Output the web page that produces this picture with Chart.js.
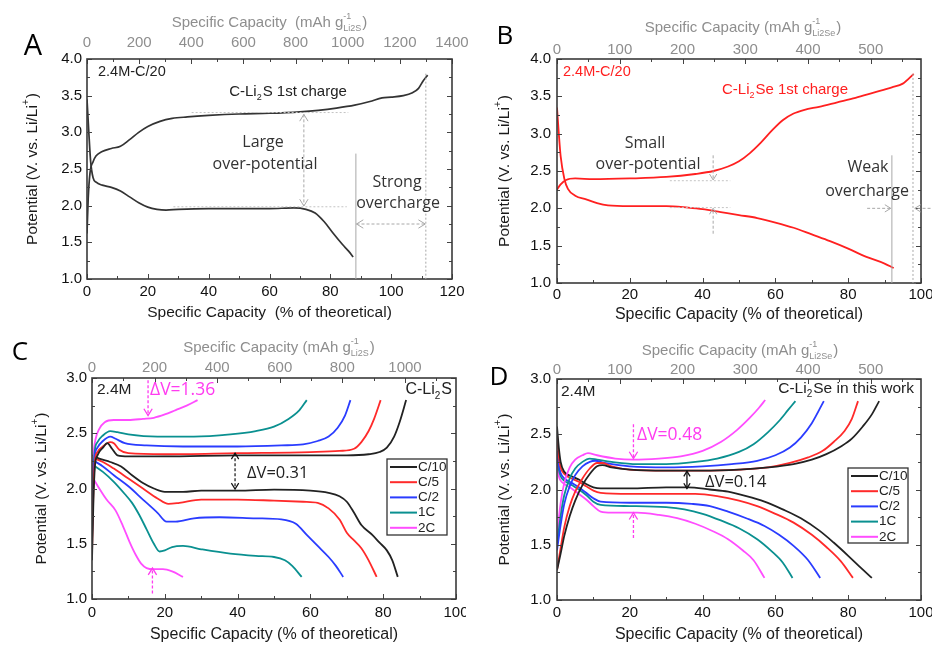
<!DOCTYPE html>
<html>
<head>
<meta charset="utf-8">
<script src="https://cdn.jsdelivr.net/npm/chart.js@4.4.1/dist/chart.umd.min.js"></script>
<style>
  html, body { margin: 0; padding: 0; background: #fff; }
  #wrap { position: relative; width: 932px; height: 646px; overflow: hidden; }
  canvas { position: absolute; }
</style>
</head>
<body>
<div id="wrap">
  <canvas id="pA" width="474" height="323" style="left:0;top:0"></canvas>
  <canvas id="pB" width="466" height="323" style="left:466px;top:0"></canvas>
  <canvas id="pC" width="466" height="323" style="left:0;top:323px"></canvas>
  <canvas id="pD" width="466" height="323" style="left:466px;top:323px"></canvas>
</div>
<script>
// ---- tick labels ----
const pctTicksA = [0, 20, 40, 60, 80, 100, 120];
const pctTicks = [0, 20, 40, 60, 80, 100];
const mAhTicksA = [0, 200, 400, 600, 800, 1000, 1200, 1400];
const mAhTicksB = [0, 100, 200, 300, 400, 500];
const mAhTicksC = [0, 200, 400, 600, 800, 1000];
const mAhTicksD = [0, 100, 200, 300, 400, 500];
const vTicksAB = [1.0, 1.5, 2.0, 2.5, 3.0, 3.5, 4.0];
const vTicksCD = [1.0, 1.5, 2.0, 2.5, 3.0];

// ---- panel A: C-Li2S first charge / discharge (x: % of theoretical, y: V) ----
const aCharge = [[0,1.62],[0.4,2.1],[1,2.45],[2,2.6],[3,2.68],[5,2.74],[8,2.78],[11,2.81],[14,2.9],[17,3.0],[20,3.08],[24,3.15],[28,3.19],[33,3.21],[40,3.23],[50,3.25],[60,3.26],[70,3.28],[76,3.3],[82,3.33],[88,3.37],[93,3.42],[97,3.47],[100,3.48],[104,3.5],[107,3.54],[109,3.6],[110.5,3.7],[112,3.78]];
const aDischarge = [[0,3.45],[0.6,3.0],[1.2,2.6],[2,2.38],[3,2.32],[5,2.28],[8,2.25],[11,2.2],[14,2.12],[17,2.04],[20,1.98],[23,1.95],[26,1.94],[30,1.95],[40,1.96],[50,1.96],[60,1.96],[68,1.97],[72,1.95],[75,1.9],[78,1.78],[81,1.62],[84,1.47],[86,1.38],[87.5,1.3]];

// ---- panel B: C-Li2Se first charge / discharge ----
const bCharge = [[0,2.25],[1,2.32],[2.5,2.38],[5,2.4],[10,2.39],[20,2.4],[30,2.42],[38,2.46],[43,2.5],[47,2.56],[50,2.63],[53,2.74],[56,2.88],[59,3.04],[62,3.18],[65,3.27],[68,3.32],[72,3.36],[77,3.42],[82,3.48],[87,3.55],[92,3.62],[95,3.67],[98,3.8]];
const bDischarge = [[0,3.35],[0.5,3.0],[1,2.7],[2,2.4],[3,2.26],[5,2.17],[8,2.12],[11,2.07],[14,2.04],[20,2.03],[30,2.03],[36,2.01],[40,1.99],[45,1.95],[50,1.91],[55,1.87],[60,1.81],[65,1.74],[70,1.65],[75,1.56],[80,1.46],[85,1.35],[90,1.26],[92.5,1.2]];

// ---- panel C: C-Li2S at different rates ----
const rateLabels = ['C/10', 'C/5', 'C/2', '1C', '2C'];
const cCharge = [
  [[0,1.35],[0.4,1.9],[0.8,2.2],[1.5,2.3],[3,2.37],[4.2,2.41],[5.5,2.36],[7,2.3],[10,2.29],[20,2.29],[40,2.3],[60,2.3],[70,2.3],[76,2.31],[79,2.33],[81,2.37],[83,2.47],[84.5,2.6],[86.3,2.8]],
  [[0,1.4],[0.4,2.0],[0.8,2.25],[1.5,2.33],[3,2.38],[5,2.42],[6,2.41],[7.5,2.35],[10,2.32],[20,2.31],[40,2.32],[60,2.33],[68,2.34],[72,2.36],[74,2.42],[76,2.52],[77.5,2.63],[79.3,2.8]],
  [[0,1.55],[0.4,2.1],[0.8,2.3],[1.5,2.37],[3,2.43],[5,2.47],[6.5,2.45],[9,2.41],[15,2.39],[25,2.38],[40,2.38],[52,2.39],[58,2.4],[62,2.43],[65,2.47],[67.5,2.55],[69.5,2.66],[71,2.8]],
  [[0,1.5],[0.4,2.15],[0.8,2.35],[1.5,2.42],[3,2.48],[5,2.52],[7,2.51],[10,2.49],[18,2.47],[28,2.47],[38,2.49],[45,2.52],[50,2.56],[54,2.63],[57,2.71],[59,2.8]],
  [[0,2.0],[0.4,2.3],[1,2.45],[2,2.54],[3.5,2.6],[6,2.62],[10,2.62],[14,2.63],[17,2.64],[20,2.67],[23,2.71],[26,2.75],[29,2.8]]
];
const cDischarge = [
  [[0,2.3],[2,2.27],[5,2.24],[8,2.2],[11,2.12],[14,2.05],[17,2.0],[20,1.97],[25,1.97],[30,1.98],[40,1.98],[50,1.99],[60,1.98],[65,1.96],[68,1.93],[70,1.88],[72,1.78],[74,1.67],[77,1.58],[79,1.51],[81,1.44],[82.5,1.35],[84,1.2]],
  [[0,2.28],[3,2.24],[6,2.18],[10,2.09],[14,2.0],[18,1.91],[21,1.86],[24,1.87],[30,1.9],[40,1.9],[50,1.89],[58,1.88],[62,1.87],[65,1.82],[68,1.72],[70,1.6],[72,1.53],[74,1.46],[76,1.35],[78.2,1.2]],
  [[0,2.26],[3,2.2],[6,2.12],[10,2.02],[14,1.9],[18,1.78],[20.5,1.7],[23,1.7],[28,1.73],[35,1.74],[45,1.73],[52,1.72],[56,1.68],[59,1.58],[62,1.48],[65,1.38],[67,1.3],[69,1.2]],
  [[0,2.22],[3,2.15],[6,2.06],[9,1.95],[11,1.87],[13,1.76],[15,1.63],[17,1.5],[18.6,1.43],[20,1.44],[22,1.47],[25,1.48],[30,1.45],[38,1.41],[45,1.39],[50,1.38],[53,1.35],[55,1.3],[57.6,1.2]],
  [[0,2.11],[2,2.0],[4,1.9],[6.5,1.8],[8.5,1.66],[10.4,1.51],[12,1.4],[13.5,1.32],[15,1.28],[17,1.27],[19.5,1.27],[22,1.25],[25,1.2]]
];

// ---- panel D: C-Li2Se at different rates ----
const dCharge = [
  [[0,1.27],[1,1.42],[2,1.58],[3.5,1.76],[5,1.9],[7,2.04],[9,2.14],[11,2.21],[12.5,2.22],[15,2.2],[20,2.18],[30,2.17],[40,2.17],[50,2.18],[58,2.2],[65,2.23],[70,2.27],[74,2.32],[78,2.39],[81,2.46],[84,2.57],[86.5,2.68],[88.5,2.8]],
  [[0,1.27],[1,1.47],[2,1.66],[3.5,1.85],[5,1.98],[7,2.1],[9,2.19],[11,2.24],[12.5,2.24],[15,2.21],[20,2.18],[30,2.17],[40,2.17],[50,2.18],[58,2.2],[64,2.24],[69,2.29],[73,2.35],[76,2.43],[79,2.53],[81,2.64],[82.7,2.8]],
  [[0,1.45],[1,1.68],[2,1.87],[3.5,2.03],[5,2.13],[7,2.21],[9,2.25],[10.5,2.26],[13,2.24],[20,2.21],[30,2.2],[40,2.21],[48,2.23],[55,2.26],[60,2.31],[64,2.38],[67,2.47],[70,2.6],[73.3,2.8]],
  [[0,1.5],[1,1.76],[2,1.95],[3.5,2.1],[5,2.19],[7,2.25],[9,2.28],[11,2.27],[15,2.25],[22,2.23],[30,2.23],[38,2.25],[44,2.28],[50,2.34],[54,2.41],[58,2.52],[61,2.62],[63.5,2.72],[65.5,2.8]],
  [[0,1.58],[1,1.88],[2,2.06],[3.5,2.2],[5,2.27],[7,2.31],[8.5,2.33],[11,2.31],[16,2.28],[21,2.27],[28,2.28],[34,2.3],[40,2.35],[45,2.43],[49.5,2.54],[53,2.65],[55.5,2.74],[57.2,2.81]]
];
const dDischarge = [
  [[0,2.57],[0.5,2.38],[1,2.25],[2,2.16],[4,2.12],[6,2.09],[8,2.05],[10,2.02],[12,2.01],[20,2.01],[30,2.02],[36,2.02],[42,2.0],[47,1.98],[52,1.94],[57,1.89],[62,1.82],[67,1.74],[72,1.63],[76,1.52],[80,1.4],[83.5,1.29],[86.5,1.2]],
  [[0,2.5],[0.5,2.3],[1,2.2],[2,2.14],[4,2.1],[6,2.07],[8,2.03],[10,1.99],[12,1.97],[20,1.96],[30,1.96],[38,1.96],[44,1.94],[50,1.9],[55,1.85],[60,1.78],[65,1.7],[70,1.59],[74,1.48],[78,1.35],[81.3,1.2]],
  [[0,2.35],[0.5,2.22],[1,2.15],[2,2.1],[4,2.06],[6,2.02],[8,1.97],[10,1.92],[12,1.89],[20,1.88],[30,1.88],[37,1.87],[42,1.85],[47,1.8],[52,1.74],[57,1.67],[61,1.59],[65,1.49],[69,1.36],[72.3,1.2]],
  [[0,2.3],[0.5,2.18],[1,2.12],[2,2.08],[4,2.04],[6,2.0],[8,1.95],[10,1.89],[12,1.86],[20,1.85],[30,1.84],[35,1.82],[40,1.78],[45,1.72],[50,1.65],[55,1.55],[59,1.44],[62,1.34],[64.7,1.2]],
  [[0,2.22],[0.5,2.12],[1,2.08],[2,2.05],[4,2.01],[6,1.96],[8,1.91],[10,1.85],[12,1.8],[15,1.79],[22,1.79],[28,1.77],[33,1.74],[38,1.69],[43,1.62],[47,1.55],[51,1.45],[54,1.36],[57,1.2]]
];

const rateColors = ['#222222', '#ff2a2a', '#2a3cff', '#0a9090', '#ff4dff'];
const MAG = '#ff3cf0';
const GRAY = '#8e8e8e';
const FONT = 'Liberation Sans';
const FONT2 = 'Open Sans';

Chart.defaults.font.family = FONT;
Chart.defaults.font.size = 15;
Chart.defaults.color = '#111';

// ---------- drawing helpers ----------
function rich(ctx, parts, x, y, o) {
  const size = o.size || 15, fam = o.font || FONT, small = Math.round(size * 0.62);
  const F = s => (o.weight || '') + ' ' + s + 'px "' + fam + '"';
  const widths = parts.map(p => {
    if (typeof p === 'string') { ctx.font = F(size); return ctx.measureText(p).width; }
    ctx.font = F(small);
    return Math.max(p.sub ? ctx.measureText(p.sub).width : 0, p.sup ? ctx.measureText(p.sup).width : 0) + 1;
  });
  const total = widths.reduce((a, b) => a + b, 0);
  let cx = o.align === 'center' ? x - total / 2 : o.align === 'right' ? x - total : x;
  ctx.fillStyle = o.color || '#111';
  ctx.textBaseline = 'middle';
  ctx.textAlign = 'left';
  parts.forEach((p, i) => {
    if (typeof p === 'string') { ctx.font = F(size); ctx.fillText(p, cx, y); }
    else {
      ctx.font = F(small);
      if (p.sup) ctx.fillText(p.sup, cx, y - size * 0.42);
      if (p.sub) ctx.fillText(p.sub, cx, y + size * 0.36);
    }
    cx += widths[i];
  });
}

function seg(ctx, x1, y1, x2, y2, color, dash, w) {
  ctx.save();
  ctx.strokeStyle = color; ctx.lineWidth = w || 1; ctx.setLineDash(dash || []);
  ctx.beginPath(); ctx.moveTo(x1, y1); ctx.lineTo(x2, y2); ctx.stroke();
  ctx.restore();
}

function head(ctx, x, y, ang, s, color, w) {
  ctx.save();
  ctx.strokeStyle = color; ctx.lineWidth = w || 1; ctx.setLineDash([]);
  ctx.beginPath();
  ctx.moveTo(x - s * Math.cos(ang - 0.55), y - s * Math.sin(ang - 0.55));
  ctx.lineTo(x, y);
  ctx.lineTo(x - s * Math.cos(ang + 0.55), y - s * Math.sin(ang + 0.55));
  ctx.stroke();
  ctx.restore();
}

function arrow(ctx, x1, y1, x2, y2, o) {
  seg(ctx, x1, y1, x2, y2, o.color, o.dash, o.w);
  head(ctx, x2, y2, Math.atan2(y2 - y1, x2 - x1), o.head || 7, o.color, o.w);
  if (o.both) head(ctx, x1, y1, Math.atan2(y1 - y2, x1 - x2), o.head || 7, o.color, o.w);
}

function frameAndTicks(chart) {
  const ctx = chart.ctx, a = chart.chartArea;
  const sx = chart.scales.x, sy = chart.scales.y, st = chart.scales.x2;
  ctx.save();
  ctx.strokeStyle = '#444'; ctx.lineWidth = 1;
  const list = s => {
    const v = s.ticks.map(t => t.value), step = v[1] - v[0], out = [];
    v.forEach(t => { out.push([t, 5]); if (t + step / 2 < s.max) out.push([t + step / 2, 3]); });
    return out;
  };
  ctx.beginPath();
  list(sx).forEach(([v, l]) => { const p = Math.round(sx.getPixelForValue(v)) + 0.5; ctx.moveTo(p, a.bottom); ctx.lineTo(p, a.bottom - l); });
  list(st).forEach(([v, l]) => { const p = Math.round(st.getPixelForValue(v)) + 0.5; ctx.moveTo(p, a.top); ctx.lineTo(p, a.top + l); });
  list(sy).forEach(([v, l]) => {
    const p = Math.round(sy.getPixelForValue(v)) + 0.5;
    ctx.moveTo(a.left, p); ctx.lineTo(a.left + l, p);
    ctx.moveTo(a.right, p); ctx.lineTo(a.right - l, p);
  });
  ctx.stroke();
  ctx.lineWidth = 1.6; ctx.strokeStyle = '#3a3a3a';
  ctx.strokeRect(a.left, a.top, a.right - a.left, a.bottom - a.top);
  ctx.restore();
}

function titles(chart, t) {
  const ctx = chart.ctx, a = chart.chartArea, mid = (a.left + a.right) / 2;
  rich(ctx, t.bottom, mid + (t.bdx || 0), t.by, { size: t.bSize || 16, align: 'center', color: '#1a1a1a' });
  rich(ctx, t.top, mid + (t.tdx || 0), t.ty, { size: 15, align: 'center', color: GRAY });
  ctx.save();
  ctx.translate(t.lx, (a.top + a.bottom) / 2);
  ctx.rotate(-Math.PI / 2);
  rich(ctx, ['Potential (V. vs. Li/Li', { sup: '+' }, ')'], 0, 0, { size: 15.5, align: 'center', color: '#1a1a1a' });
  ctx.restore();
  rich(ctx, [t.letter], t.letterX, t.letterY, { size: t.letterSize || 26, font: FONT2, align: 'center', color: '#000' });
}

function legendBox(chart, box) {
  const ctx = chart.ctx;
  ctx.save();
  ctx.fillStyle = '#fff';
  ctx.fillRect(box.x, box.y, box.w, box.h);
  ctx.strokeStyle = '#333'; ctx.lineWidth = 1.3;
  ctx.strokeRect(box.x, box.y, box.w, box.h);
  rateLabels.forEach((lab, i) => {
    const yy = box.y + box.first + i * box.gap;
    seg(ctx, box.x + 3, yy, box.x + box.line, yy, rateColors[i], [], 2);
    rich(ctx, [lab], box.x + box.line + 1, yy, { size: 13.5, color: '#222' });
  });
  ctx.restore();
}

// per-panel decorations (annotations in data coordinates)
const decorations = {
  pA(chart) {
    const ctx = chart.ctx, X = v => chart.scales.x.getPixelForValue(v), Y = v => chart.scales.y.getPixelForValue(v);
    const g = '#a8a8a8';
    seg(ctx, X(34.4), Y(3.27), X(85.9), Y(3.27), '#c4c4c4', [2, 2], 1);
    seg(ctx, X(28.4), Y(1.985), X(85.4), Y(1.985), '#c4c4c4', [2, 2], 1);
    arrow(ctx, X(71.3), Y(3.245), X(71.3), Y(1.995), { color: g, dash: [3, 2], both: true, head: 8 });
    seg(ctx, X(88.4), Y(2.71), X(88.4), Y(1.0), g, [], 1);
    seg(ctx, X(111.4), Y(3.8), X(111.4), Y(1.0), g, [2, 2], 1);
    arrow(ctx, X(88.6), Y(1.75), X(111.2), Y(1.75), { color: g, dash: [3, 2], both: true, head: 8 });
    rich(ctx, ['2.4M-C/20'], 98, 72, { size: 14.5, color: '#222' });
    rich(ctx, ['C-Li', { sub: '2' }, 'S 1st charge'], 288, 92, { size: 15, align: 'center', color: '#222' });
    rich(ctx, ['Large'], 263, 142, { size: 16, font: FONT2, align: 'center', color: '#333' });
    rich(ctx, ['over-potential'], 265, 164, { size: 16, font: FONT2, align: 'center', color: '#333' });
    rich(ctx, ['Strong'], 397, 182, { size: 16, font: FONT2, align: 'center', color: '#333' });
    rich(ctx, ['overcharge'], 398, 203, { size: 16, font: FONT2, align: 'center', color: '#333' });
    titles(chart, {
      bottom: ['Specific Capacity  (% of theoretical)'], by: 313, bSize: 15.5,
      top: ['Specific Capacity  (mAh g', { sup: '-1', sub: 'Li2S' }, ')'], ty: 23,
      lx: 33, letter: 'A', letterX: 33, letterY: 47, letterSize: 29
    });
  },
  pB(chart) {
    const ctx = chart.ctx, X = v => chart.scales.x.getPixelForValue(v), Y = v => chart.scales.y.getPixelForValue(v);
    const g = '#a8a8a8';
    seg(ctx, X(31), Y(2.37), X(47.6), Y(2.37), '#c4c4c4', [2, 2], 1);
    seg(ctx, X(31), Y(2.01), X(47.6), Y(2.01), '#c4c4c4', [2, 2], 1);
    arrow(ctx, X(42.9), Y(2.71), X(42.9), Y(2.38), { color: g, dash: [3, 2], head: 7 });
    arrow(ctx, X(42.9), Y(1.66), X(42.9), Y(2.0), { color: g, dash: [3, 2], head: 7 });
    seg(ctx, X(92), Y(2.71), X(92), Y(1.0), g, [], 1);
    seg(ctx, X(97.8), Y(3.8), X(97.8), Y(1.0), g, [2, 2], 1);
    arrow(ctx, X(85.2), Y(2.0), X(91.7), Y(2.0), { color: g, dash: [3, 2], head: 7 });
    arrow(ctx, X(104), Y(2.0), X(98.3), Y(2.0), { color: g, dash: [3, 2], head: 7 });
    rich(ctx, ['2.4M-C/20'], 97, 72, { size: 14.5, color: '#ff2020' });
    rich(ctx, ['C-Li', { sub: '2' }, 'Se 1st charge'], 319, 90, { size: 15, align: 'center', color: '#ff2020' });
    rich(ctx, ['Small'], 179, 143, { size: 16, font: FONT2, align: 'center', color: '#333' });
    rich(ctx, ['over-potential'], 182, 164, { size: 16, font: FONT2, align: 'center', color: '#333' });
    rich(ctx, ['Weak'], 402, 167, { size: 16, font: FONT2, align: 'center', color: '#333' });
    rich(ctx, ['overcharge'], 401, 191, { size: 16, font: FONT2, align: 'center', color: '#333' });
    titles(chart, {
      bottom: ['Specific Capacity (% of theoretical)'], by: 315,
      top: ['Specific Capacity (mAh g', { sup: '-1', sub: 'Li2Se' }, ')'], ty: 28, tdx: 4,
      lx: 39, letter: 'B', letterX: 39, letterY: 37
    });
  },
  pC(chart) {
    const ctx = chart.ctx, X = v => chart.scales.x.getPixelForValue(v), Y = v => chart.scales.y.getPixelForValue(v);
    arrow(ctx, X(15.4), Y(2.98), X(15.4), Y(2.66), { color: MAG, dash: [3, 2], head: 8, w: 1.3 });
    arrow(ctx, X(16.6), Y(1.05), X(16.6), Y(1.28), { color: MAG, dash: [3, 2], head: 8, w: 1.3 });
    arrow(ctx, X(39.3), Y(2.32), X(39.3), Y(1.995), { color: '#111', dash: [3, 2], head: 7, w: 1.2, both: true });
    rich(ctx, ['2.4M'], 97, 67, { size: 15.5, color: '#222' });
    rich(ctx, ['C-Li', { sub: '2' }, 'S'], 452, 67, { size: 16, align: 'right', color: '#222' });
    rich(ctx, ['\u0394V=1.36'], 150, 67, { size: 17.5, font: FONT2, color: MAG });
    rich(ctx, ['\u0394V=0.31'], 247, 150, { size: 16.5, font: FONT2, color: '#222' });
    legendBox(chart, { x: 387, y: 136, w: 60, h: 76, first: 8, gap: 15.2, line: 30 });
    titles(chart, {
      bottom: ['Specific Capacity (% of theoretical)'], by: 312,
      top: ['Specific Capacity (mAh g', { sup: '-1', sub: 'Li2S' }, ')'], ty: 25, tdx: 5,
      lx: 42, letter: 'C', letterX: 20, letterY: 30
    });
  },
  pD(chart) {
    const ctx = chart.ctx, X = v => chart.scales.x.getPixelForValue(v), Y = v => chart.scales.y.getPixelForValue(v);
    arrow(ctx, X(21), Y(2.59), X(21), Y(2.28), { color: MAG, dash: [3, 2], head: 8, w: 1.3 });
    arrow(ctx, X(21), Y(1.56), X(21), Y(1.79), { color: MAG, dash: [3, 2], head: 8, w: 1.3 });
    arrow(ctx, X(35.7), Y(2.165), X(35.7), Y(2.01), { color: '#111', head: 6, w: 1.3, both: true });
    rich(ctx, ['2.4M'], 95, 69, { size: 15.5, color: '#222' });
    rich(ctx, ['C-Li', { sub: '2' }, 'Se in this work'], 448, 66, { size: 15.5, align: 'right', color: '#222' });
    rich(ctx, ['\u0394V=0.48'], 171, 112, { size: 17.5, font: FONT2, color: MAG });
    rich(ctx, ['\u0394V=0.14'], 239, 159, { size: 16.5, font: FONT2, color: '#222' });
    legendBox(chart, { x: 382, y: 145, w: 60, h: 75, first: 8, gap: 15.2, line: 30 });
    titles(chart, {
      bottom: ['Specific Capacity (% of theoretical)'], by: 312,
      top: ['Specific Capacity (mAh g', { sup: '-1', sub: 'Li2Se' }, ')'], ty: 28, tdx: 1,
      lx: 39, letter: 'D', letterX: 33, letterY: 55
    });
  }
};

const deco = {
  id: 'deco',
  afterDraw(chart) {
    frameAndTicks(chart);
    decorations[chart.canvas.id](chart);
  }
};

function makeChart(id, o) {
  const datasets = o.sets.map(s => ({
    data: s.pts.map(p => ({ x: p[0], y: p[1] })),
    borderColor: s.color,
    borderWidth: s.w || 1.8,
    pointRadius: 0,
    fill: false,
    cubicInterpolationMode: 'monotone'
  }));
  const noPadX = s => { s.paddingLeft = 0; s.paddingRight = 0; };
  const useTicks = vals => s => { s.ticks = vals.map(v => ({ value: v })); };
  return new Chart(document.getElementById(id), {
    type: 'line',
    data: { datasets },
    options: {
      responsive: false,
      animation: false,
      devicePixelRatio: 1,
      layout: { padding: { left: 0, right: o.padR, top: 0, bottom: 0 } },
      plugins: { legend: { display: false }, tooltip: { enabled: false } },
      scales: {
        x: {
          type: 'linear', position: 'bottom', min: 0, max: o.xMax,
          grid: { display: false, drawTicks: false }, border: { display: false },
          ticks: { padding: o.bPad, color: '#111', maxRotation: 0, autoSkip: false, callback: v => String(v) },
          afterBuildTicks: useTicks(o.xTicks),
          afterFit: s => { s.height = o.bH; noPadX(s); }
        },
        x2: {
          type: 'linear', axis: 'x', position: 'top', min: 0, max: o.tMax,
          grid: { display: false, drawTicks: false }, border: { display: false },
          ticks: { padding: o.tPad, color: GRAY, maxRotation: 0, autoSkip: false, callback: v => String(v) },
          afterBuildTicks: useTicks(o.tTicks),
          afterFit: s => { s.height = o.tH; noPadX(s); }
        },
        y: {
          type: 'linear', position: 'left', min: o.yTicks[0], max: o.yTicks[o.yTicks.length - 1],
          grid: { display: false, drawTicks: false }, border: { display: false },
          ticks: { padding: o.lPad, color: '#111', autoSkip: false, callback: v => v.toFixed(1) },
          afterBuildTicks: useTicks(o.yTicks),
          afterFit: s => { s.width = o.lW; s.paddingTop = 0; s.paddingBottom = 0; }
        }
      }
    },
    plugins: [deco]
  });
}

makeChart('pA', {
  sets: [{ pts: aCharge, color: '#333', w: 1.7 }, { pts: aDischarge, color: '#333', w: 1.7 }],
  xMax: 120, xTicks: pctTicksA, tMax: 1400, tTicks: mAhTicksA, yTicks: vTicksAB,
  lW: 87, padR: 22, tH: 59, bH: 44, bPad: 4, tPad: 7, lPad: 5
});
makeChart('pB', {
  sets: [{ pts: bCharge, color: '#ff2020' }, { pts: bDischarge, color: '#ff2020' }],
  xMax: 100, xTicks: pctTicks, tMax: 580, tTicks: mAhTicksB, yTicks: vTicksAB,
  lW: 91, padR: 11, tH: 59, bH: 40, bPad: 3, tPad: 0, lPad: 6
});
makeChart('pC', {
  sets: cCharge.map((p, i) => ({ pts: p, color: rateColors[i] })).concat(cDischarge.map((p, i) => ({ pts: p, color: rateColors[i] }))),
  xMax: 100, xTicks: pctTicks, tMax: 1163, tTicks: mAhTicksC, yTicks: vTicksCD,
  lW: 92, padR: 10, tH: 55, bH: 47, bPad: 5, tPad: 1, lPad: 5
});
makeChart('pD', {
  sets: dCharge.map((p, i) => ({ pts: p, color: rateColors[i] })).concat(dDischarge.map((p, i) => ({ pts: p, color: rateColors[i] }))),
  xMax: 100, xTicks: pctTicks, tMax: 580, tTicks: mAhTicksD, yTicks: vTicksCD,
  lW: 91, padR: 11, tH: 56, bH: 46, bPad: 4, tPad: 0, lPad: 6
});
</script>
</body>
</html>
